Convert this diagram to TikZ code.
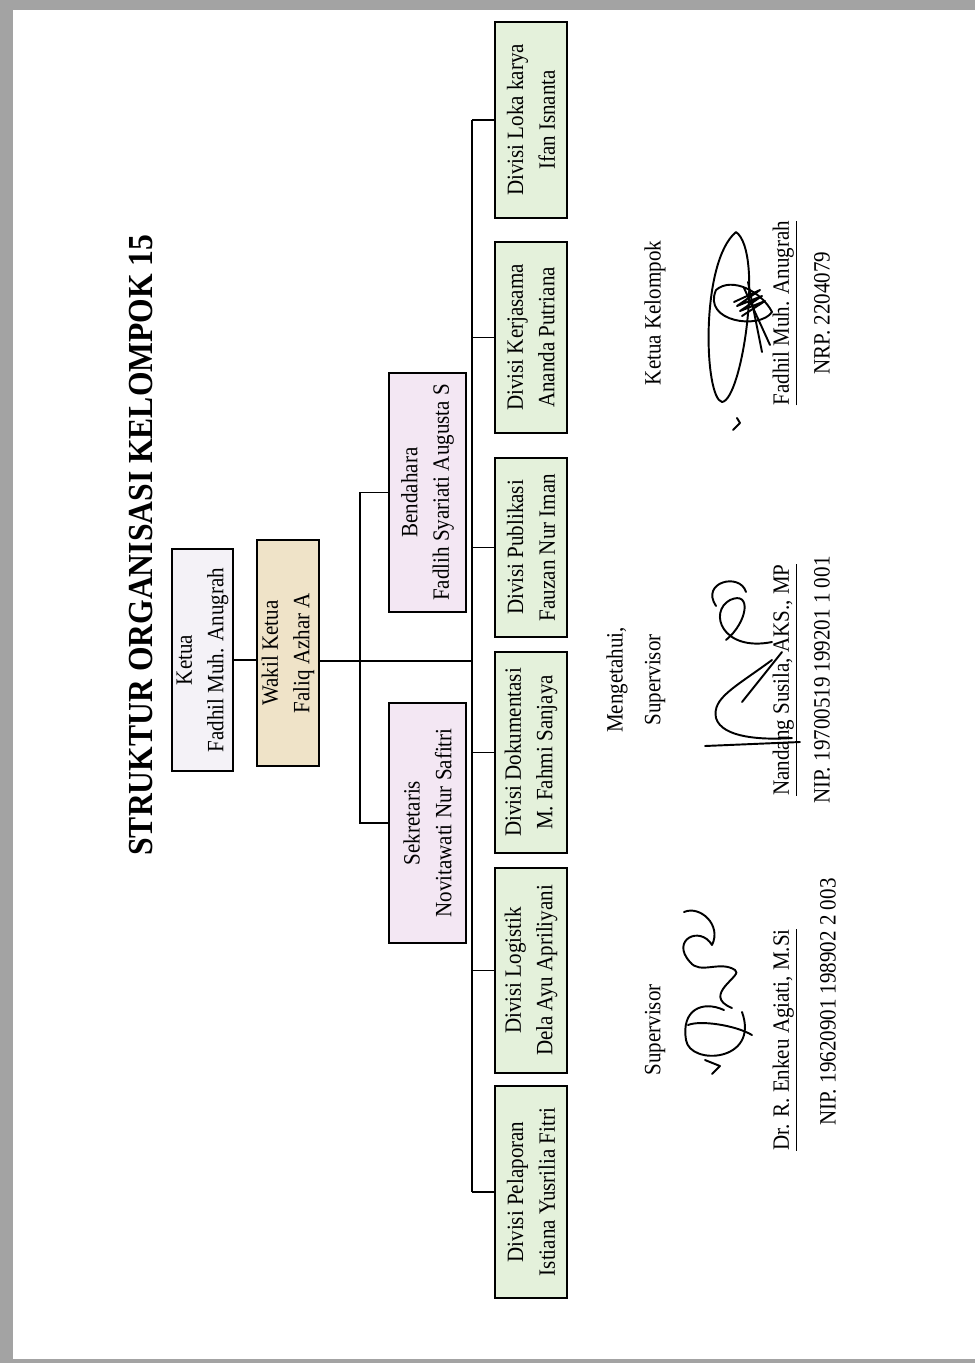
\documentclass[tikz,border=0pt]{standalone}
\usepackage{fontspec}
\setmainfont{Liberation Serif}[FakeStretch=0.9]
\definecolor{framegray}{HTML}{A3A3A3}
\definecolor{ketuafill}{HTML}{F4F2F7}
\definecolor{wakilfill}{HTML}{EFE3C8}
\definecolor{pengurusfill}{HTML}{F3E7F3}
\definecolor{divisifill}{HTML}{E4F1DB}
\tikzset{
  box/.style={draw, line width=1pt, rotate=90, align=center, inner sep=0pt, font=\fontsize{13.3}{18}\selectfont},
  txt/.style={rotate=90, inner sep=0pt, font=\fontsize{13.3}{15}\selectfont},
  sign/.style={line width=1.1pt, line cap=round, line join=round},
}
\begin{document}
\begin{tikzpicture}[x=0.02cm, y=-0.02cm]
\useasboundingbox (0,0) rectangle (975,1363);
\fill[framegray] (0,0) rectangle (975,1363); %frame
\fill[white] (13,10) rectangle (975,1359); %page
\node[rotate=90, inner sep=0pt, font=\fontsize{20}{22}\selectfont\bfseries] (judul) at (141,545) {STRUKTUR ORGANISASI KELOMPOK 15};
\node[box, fill=ketuafill, minimum width=4.44cm, minimum height=1.22cm] (ketua) at (202.5,660) {Ketua\\Fadhil Muh. Anugrah};
\node[box, fill=wakilfill, minimum width=4.52cm, minimum height=1.24cm] (wakil) at (288,653) {Wakil Ketua\\Faliq Azhar A};
\node[box, fill=pengurusfill, minimum width=4.8cm, minimum height=1.54cm] (sekretaris) at (427.5,823) {Sekretaris\\Novitawati Nur Safitri};
\node[box, fill=pengurusfill, minimum width=4.78cm, minimum height=1.54cm] (bendahara) at (427.5,492.5) {Bendahara\\Fadlih Syariati Augusta S};
\foreach \name/\y/\len/\teks in {loka/120/3.92/{Divisi Loka karya\\Ifan Isnanta},
    kerjasama/337.5/3.82/{Divisi Kerjasama\\Ananda Putriana},
    publikasi/547.5/3.58/{Divisi Publikasi\\Fauzan Nur Iman},
    dokumentasi/752.5/4.02/{Divisi Dokumentasi\\M. Fahmi Sanjaya},
    logistik/970.5/4.1/{Divisi Logistik\\Dela Ayu Apriliyani},
    pelaporan/1192/4.24/{Divisi Pelaporan\\Istiana Yusrilia Fitri}}
  \node[box, fill=divisifill, minimum width=\len cm, minimum height=1.44cm] (\name) at (531,\y) {\teks};
\coordinate (hub) at (472,661);
\coordinate (brk) at (360,661);
\draw[line width=1pt] (ketua.south) -- (ketua.south -| wakil.north); %ketua-wakil
\draw[line width=1pt] (wakil.south |- hub) -- (hub); %wakil-trunk
\draw[line width=1pt] (bendahara.north) -- (bendahara.north -| brk) -- (sekretaris.north -| brk) -- (sekretaris.north); %bracket
\draw[line width=1pt] (loka.north -| hub) -- (pelaporan.north -| hub); %trunk
\foreach \name in {loka,kerjasama,publikasi,dokumentasi,logistik,pelaporan}
  \draw[line width=1pt] (\name.north) -- (\name.north -| hub);
% signing part
\node[txt] (mengetahui) at (617,680) {Mengetahui,};
\node[txt] (spvtengah) at (655,680) {Supervisor};
\node[txt] (ketuakel) at (655,313) {Ketua Kelompok};
\node[txt] (spvkiri) at (655,1030) {Supervisor};
\node[txt] (nandang) at (785,680) {\underline{Nandang Susila, AKS., MP}};
\node[txt] (nipnandang) at (822,680) {NIP. 19700519 199201 1 001};
\node[txt] (fadhil) at (785,313) {\underline{Fadhil Muh. Anugrah}};
\node[txt] (nrp) at (822,313) {NRP. 2204079};
\node[txt] (enkeu) at (785,1040) {\underline{Dr. R. Enkeu Agiati, M.Si}};
\node[txt] (nipenkeu) at (828,1002) {NIP. 19620901 198902 2 003};
% signatures
\draw[sign] (736,232) .. controls (700,262) and (704,398) .. (722,402) .. controls (742,400) and (764,252) .. (736,232); %fadhil loop
\draw[sign] (716,290) .. controls (702,322) and (760,330) .. (772,312) .. controls (762,292) and (732,276) .. (716,290);
\draw[sign] plot coordinates {(734,302) (760,290) (737,306) (762,296) (740,311) (765,301) (742,316)};
\draw[sign] (744,288) -- (770,345);
\draw[sign] (748,282) -- (762,352);
\draw[sign] (733,430) -- (740,423) -- (737,418); %tick
\draw[sign] (705,746) -- (800,742); %nandang
\draw[sign] (792,738) .. controls (762,740) and (722,738) .. (716,718) .. controls (712,698) and (734,688) .. (772,660);
\draw[sign] (742,702) -- (782,652);
\draw[sign] (772,642) .. controls (722,652) and (708,612) .. (730,600) .. controls (752,590) and (748,622) .. (726,640);
\draw[sign] (716,606) .. controls (700,582) and (740,572) .. (746,592);
\draw[sign] (712,1074) -- (720,1066) -- (705,1060); %enkeu
\draw[sign] (742,1012) .. controls (760,1062) and (690,1066) .. (686,1040) .. controls (681,1010) and (702,1000) .. (724,1010);
\draw[sign] (688,1025) .. controls (700,1020) and (735,1025) .. (752,1035);
\draw[sign] (732,1008) .. controls (700,995) and (745,975) .. (735,970) .. controls (720,960) and (700,975) .. (690,962);
\draw[sign] (690,962) .. controls (670,940) and (700,925) .. (712,945) .. controls (722,925) and (700,905) .. (684,912);
\end{tikzpicture}
\end{document}
